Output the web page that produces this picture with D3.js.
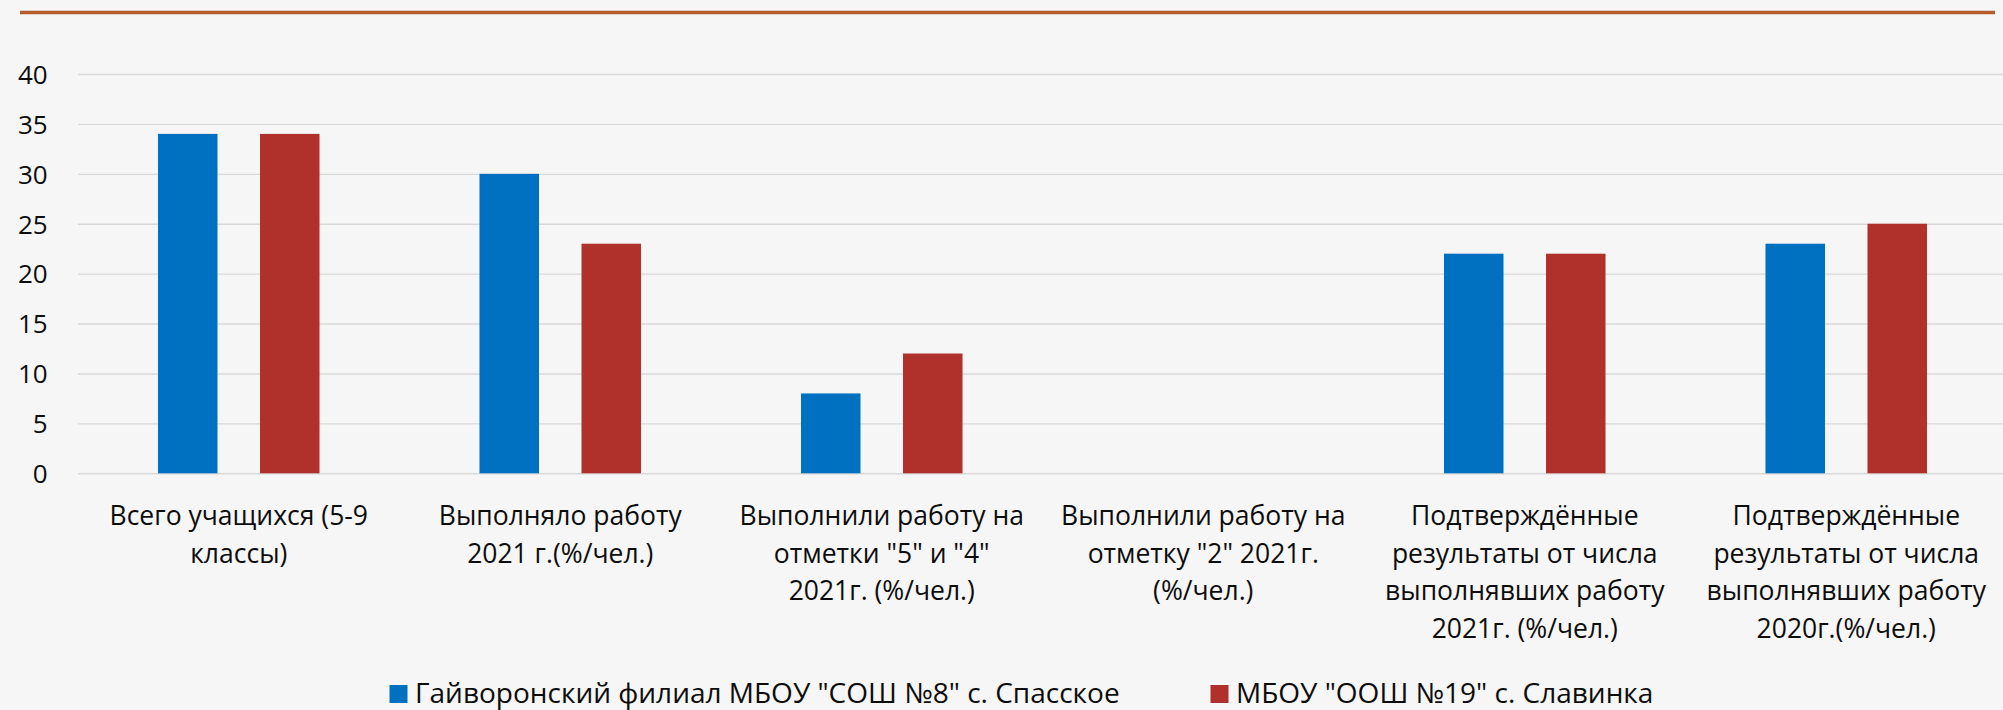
<!DOCTYPE html>
<html>
<head>
<meta charset="utf-8">
<script src="https://cdn.jsdelivr.net/npm/d3@7"></script>
<style>
  html, body { margin: 0; padding: 0; background: #F6F6F6; }
  svg { display: block; }
  text { font-family: "Open Sans", "Noto Sans", sans-serif; fill: #0d0d0d; }
</style>
</head>
<body>
<svg id="chart" width="2003" height="710"></svg>
<script>
// ---- data ----
const categories = [
  "Всего учащихся (5-9\nклассы)",
  "Выполняло работу\n2021 г.(%/чел.)",
  "Выполнили работу на\nотметки \"5\" и \"4\"\n2021г. (%/чел.)",
  "Выполнили работу на\nотметку \"2\" 2021г.\n(%/чел.)",
  "Подтверждённые\nрезультаты от числа\nвыполнявших работу\n2021г. (%/чел.)",
  "Подтверждённые\nрезультаты от числа\nвыполнявших работу\n2020г.(%/чел.)"
];
const seriesNames = [
  "Гайворонский филиал МБОУ \"СОШ №8\" с. Спасское",
  "МБОУ \"ООШ №19\" с. Славинка"
];
const seriesA = [34, 30, 8, 0, 22, 23];
const seriesB = [34, 23, 12, 0, 22, 25];
const yTicks = [0, 5, 10, 15, 20, 25, 30, 35, 40];
const colors = ["#0070C0", "#B0312B"];

// ---- layout ----
const svg = d3.select("#chart");
const W = 2003, H = 710;
const plot = { left: 78, right: 2007, top: 74, bottom: 473.3 };

// top decorative rule
svg.append("line")
  .attr("x1", 20).attr("x2", 1995)
  .attr("y1", 12.5).attr("y2", 12.5)
  .attr("stroke", "#B45C2C").attr("stroke-width", 3.5);

const x0 = d3.scaleBand()
  .domain(d3.range(categories.length))
  .range([plot.left, plot.right])
  .paddingInner(0).paddingOuter(0);

const x1 = d3.scaleBand()
  .domain([0, 1])
  .range([0, x0.bandwidth()])
  .paddingInner(0.4167)
  .paddingOuter(0.784);

const y = d3.scaleLinear()
  .domain([0, 40])
  .range([plot.bottom, plot.top]);

// gridlines
const yAxis = d3.axisLeft(y)
  .tickValues(yTicks)
  .tickSize(-(W - plot.left))
  .tickPadding(30)
  .tickFormat(d3.format("d"));

const gy = svg.append("g")
  .attr("transform", `translate(${plot.left},0)`)
  .call(yAxis);
gy.select(".domain").remove();
gy.selectAll(".tick line")
  .attr("stroke", "#D9D9D9")
  .attr("stroke-width", 1.4);
gy.selectAll(".tick text")
  .attr("font-size", 26)
  .attr("font-family", "\"Open Sans\", sans-serif")
  .attr("fill", "#0d0d0d")
  .attr("x", 47.7 - plot.left)
  .attr("dy", "0.357em");

// bars
const data = categories.map((c, i) => ({ i, vals: [seriesA[i], seriesB[i]] }));
const groups = svg.append("g").selectAll("g")
  .data(data)
  .join("g")
  .attr("transform", d => `translate(${x0(d.i)},0)`);

groups.selectAll("rect")
  .data(d => d.vals.map((v, s) => ({ v, s })))
  .join("rect")
  .attr("x", d => x1(d.s))
  .attr("width", x1.bandwidth())
  .attr("y", d => y(d.v))
  .attr("height", d => y(0) - y(d.v))
  .attr("fill", d => colors[d.s]);

// category labels
const lineH = 37.5;
const firstBase = 525;
const labels = svg.append("g").selectAll("text")
  .data(categories)
  .join("text")
  .attr("text-anchor", "middle")
  .attr("font-size", 26.5)
  .attr("x", (d, i) => x0(i) + x0.bandwidth() / 2)
  .attr("y", firstBase);
labels.each(function(d, i) {
  const t = d3.select(this);
  const cx = x0(i) + x0.bandwidth() / 2;
  d.split("\n").forEach((ln, k) => {
    t.append("tspan")
      .attr("x", cx)
      .attr("y", firstBase + k * lineH)
      .text(ln);
  });
});

// legend
const legendPos = [389.5, 1210.5];
const leg = svg.append("g").selectAll("g")
  .data(seriesNames)
  .join("g")
  .attr("transform", (d, i) => `translate(${legendPos[i]},0)`);
leg.append("rect")
  .attr("x", 0).attr("y", 685)
  .attr("width", 18).attr("height", 18)
  .attr("fill", (d, i) => colors[i]);
leg.append("text")
  .attr("x", 25.5)
  .attr("y", 703)
  .attr("font-size", 28)
  .text(d => d);
</script>
</body>
</html>
